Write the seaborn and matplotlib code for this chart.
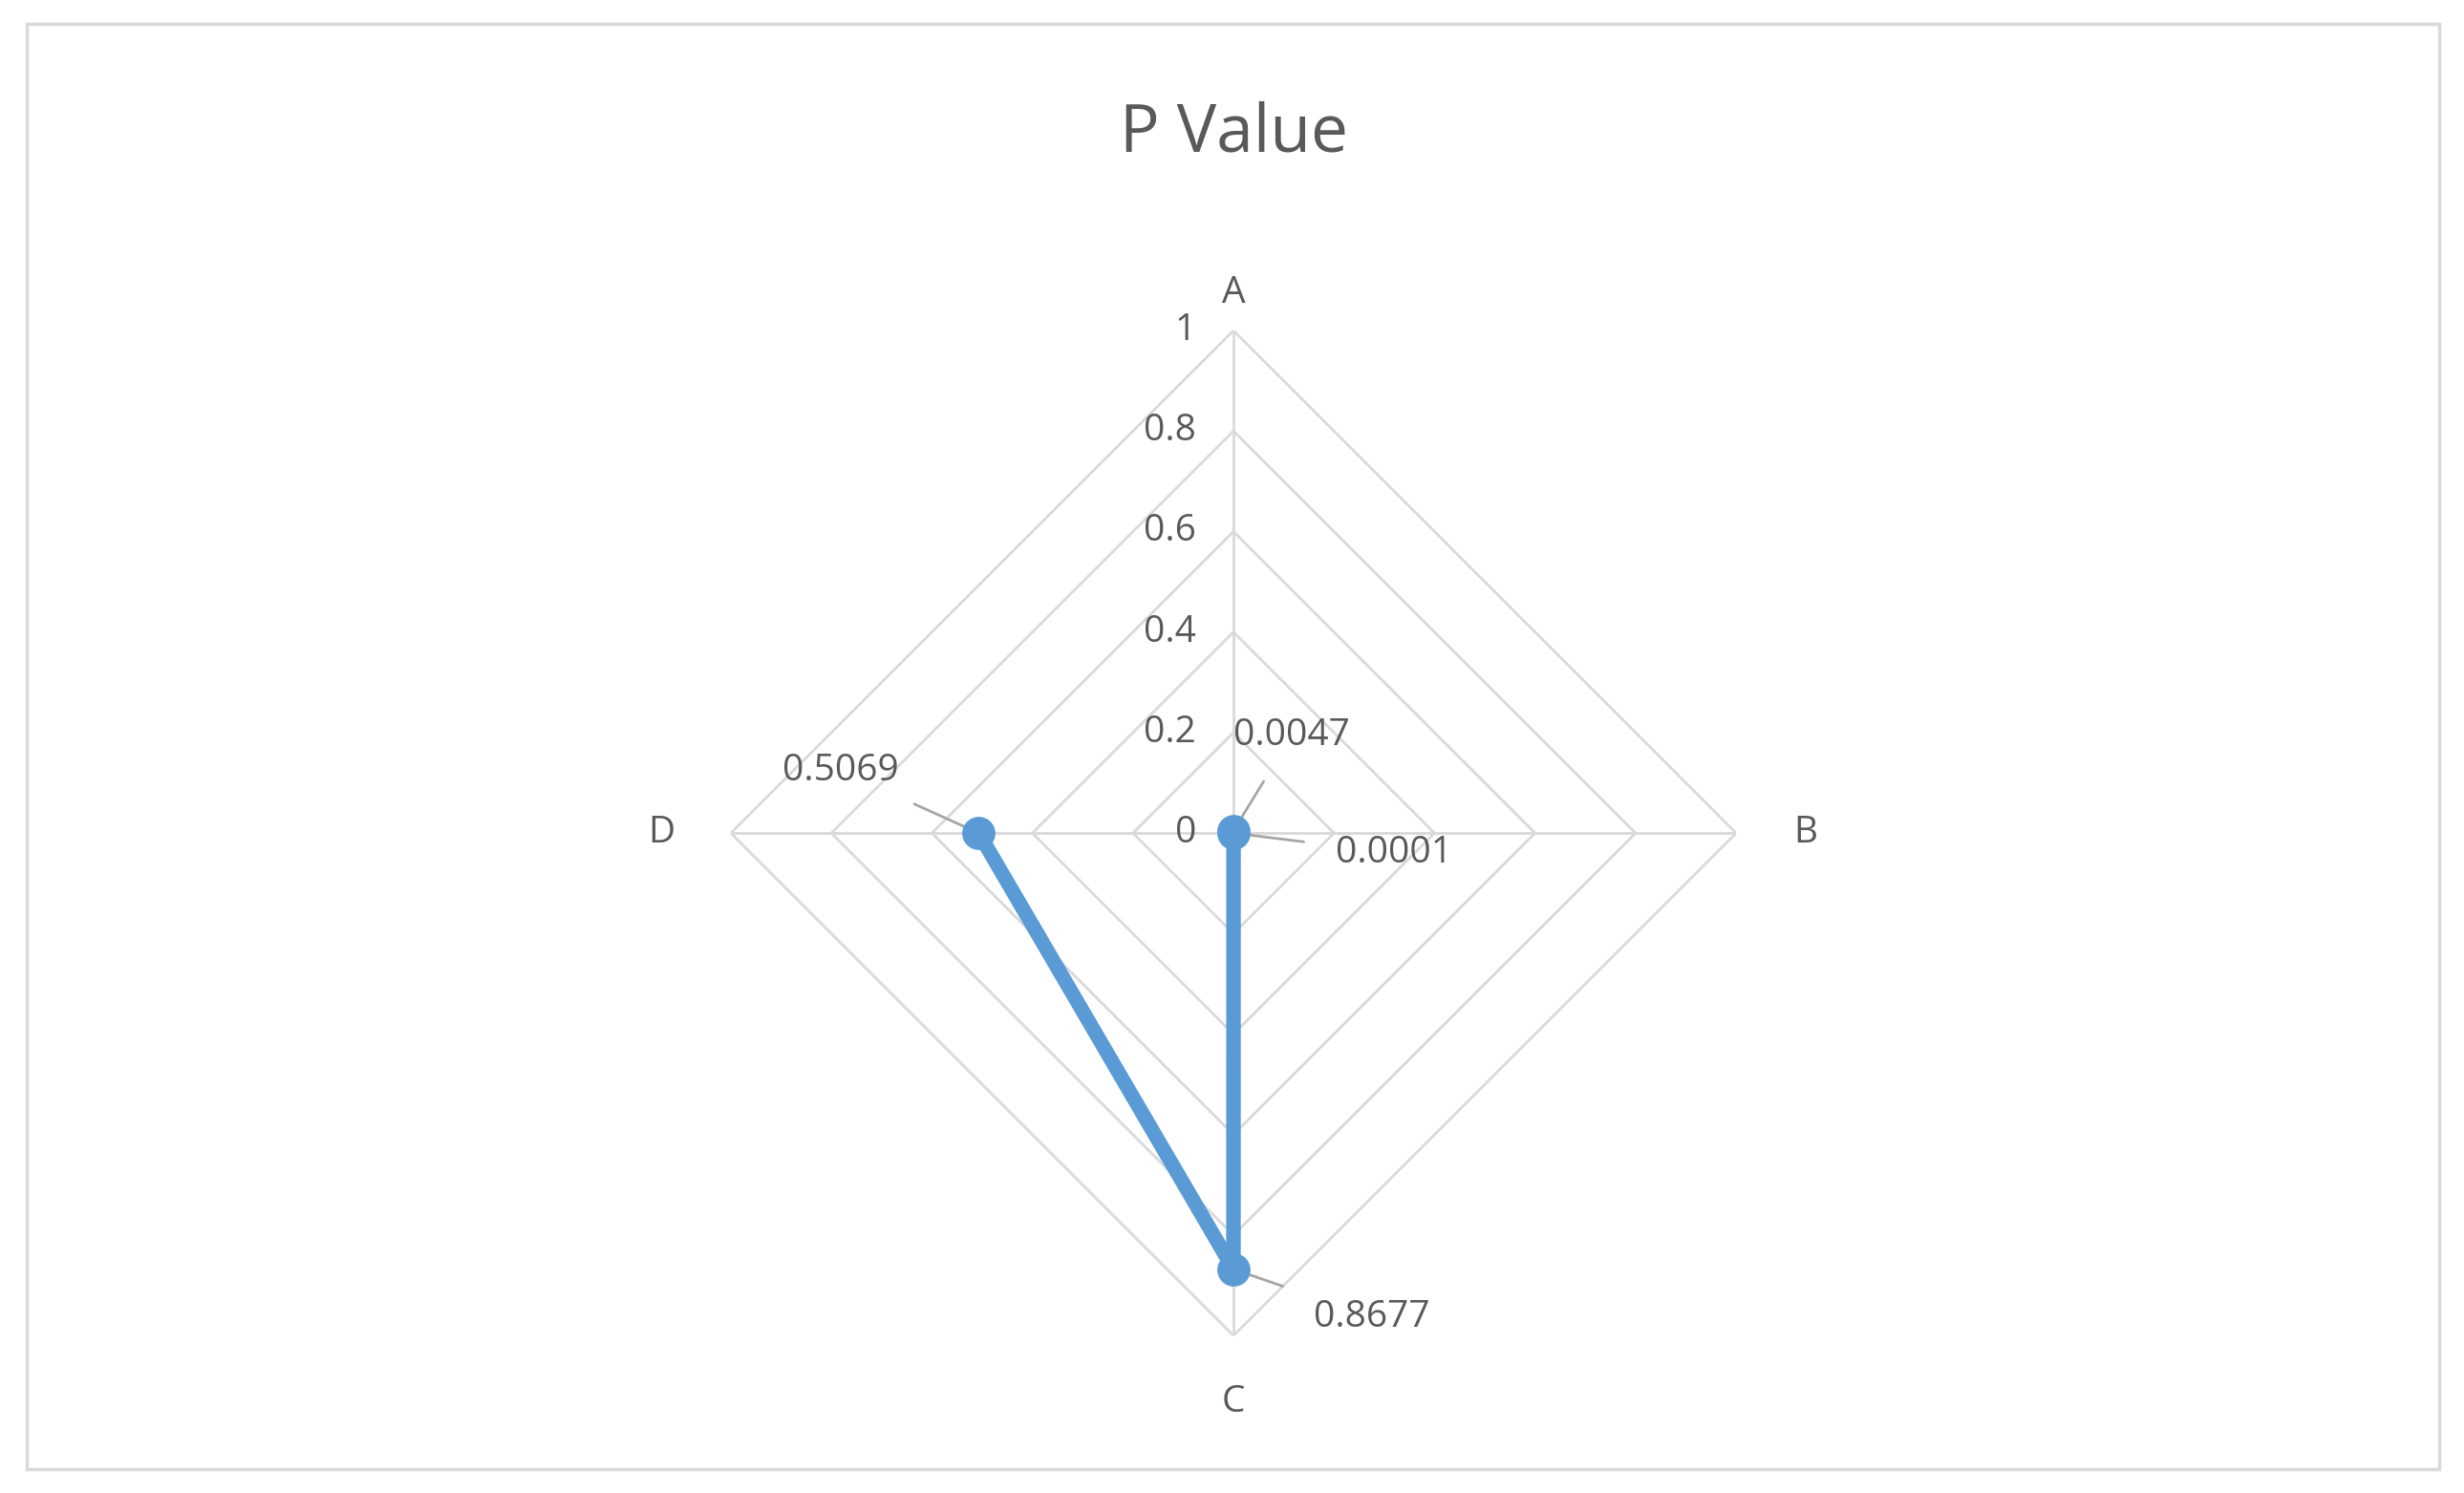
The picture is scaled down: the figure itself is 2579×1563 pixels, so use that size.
import numpy as np
import matplotlib
matplotlib.use("Agg")
import matplotlib.pyplot as plt
import seaborn as sns
import pandas as pd

categories = ["A", "B", "C", "D"]
values = [0.0047, 0.0001, 0.8677, 0.5069]
value_labels = ["0.0047", "0.0001", "0.8677", "0.5069"]
ticks = [0, 0.2, 0.4, 0.6, 0.8, 1]
tick_labels = ["0", "0.2", "0.4", "0.6", "0.8", "1"]

sns.set_style("white")
plt.rcParams['font.family'] = ['Open Sans', 'DejaVu Sans']
txt = "#595959"
grid = "#d9d9d9"
blue = "#5b9bd5"

fig = plt.figure(figsize=(25.79, 15.63), dpi=100)
fig.patches.append(matplotlib.patches.Rectangle((0.011, 0.016), 0.979, 0.968, transform=fig.transFigure,
                                                fill=False, edgecolor="#d9d9d9", linewidth=2.5))
fig.text(0.5006, 0.91, "P Value", ha="center", va="center", fontsize=50, color=txt)

ax = fig.add_axes([0.5006 - 0.204, 0.442 - 0.337, 0.408, 0.674], projection="polar")
ax.set_theta_offset(np.pi / 2)
ax.set_theta_direction(-1)
ax.set_ylim(0, 1)
ax.grid(False)
ax.spines["polar"].set_visible(False)
ax.set_xticks([]); ax.set_yticks([])
ax.patch.set_alpha(0)

angles = np.arange(len(categories)) * np.pi / 2
for t in ticks[1:]:
    ax.plot(np.append(angles, angles[0]), [t] * 5, color=grid, lw=2, zorder=1)
for a in angles:
    ax.plot([a, a], [0, 1], color=grid, lw=2, zorder=1)
for t, lab in zip(ticks, tick_labels):
    ax.annotate(lab, (0, t), xytext=(-28, 0), textcoords="offset points", ha="right", va="center",
                fontsize=28, color=txt)
for a, c in zip(angles, categories):
    off = {"A": (0, 28), "B": (52, 0), "C": (0, -50), "D": (-52, 0)}[c]
    ax.annotate(c, (a, 1), xytext=off, textcoords="offset points", ha="center", va="center",
                fontsize=28, color=txt)

df = pd.DataFrame({"theta": np.append(angles, angles[0]), "r": values + [values[0]]})
sns.lineplot(data=df, x="theta", y="r", sort=False, ax=ax, color=blue, lw=11, zorder=3)
ax.plot(angles, values, "o", color=blue, ms=24, zorder=4)
ax.set_xlabel(""); ax.set_ylabel("")

offs = {"0.0047": (44, 72), "0.0001": (121, -15), "0.8677": (104, -36), "0.5069": (-104, 47)}
for a, v, lab in zip(angles, values, value_labels):
    ax.annotate(lab, (a, v), xytext=offs[lab], textcoords="offset points", ha="center", va="center",
                fontsize=28, color=txt,
                arrowprops=dict(arrowstyle="-", color="#a6a6a6", lw=2, shrinkA=22, shrinkB=10))

fig.savefig("out.png", dpi=100)
